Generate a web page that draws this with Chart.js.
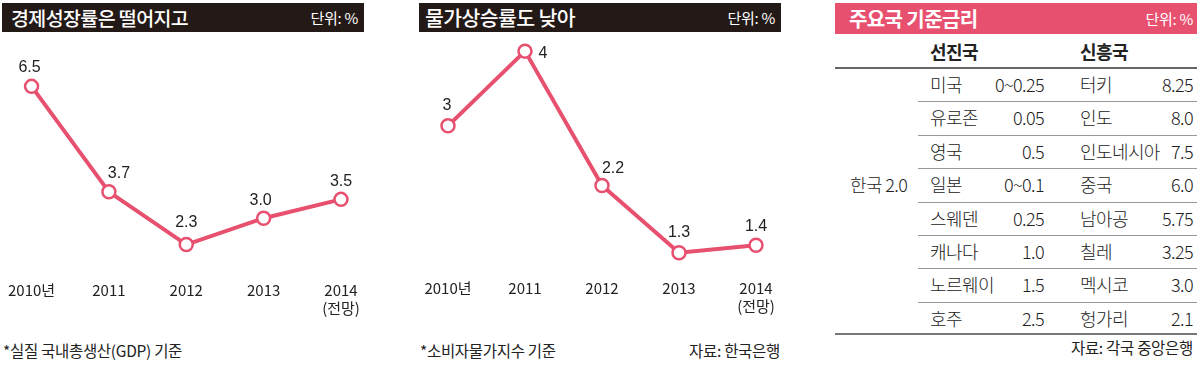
<!DOCTYPE html>
<html>
<head>
<meta charset="utf-8">
<script src="https://cdn.jsdelivr.net/npm/chart.js@4.4.1/dist/chart.umd.min.js"></script>
<style>
  body { margin: 0; width: 1200px; height: 365px; background: #fff; position: relative; overflow: hidden;
         font-family: 'Noto Sans CJK KR', sans-serif; color: #222; }
  .bar { position: absolute; color: #fff; }
  .bar .t { position: absolute; top: 0; font-size: 19.5px; font-weight: 500; letter-spacing: -0.6px; }
  .bar .u { position: absolute; top: 0; font-size: 15px; letter-spacing: -0.3px; }
  .box { position: absolute; }
  .note { position: absolute; font-size: 15.5px; letter-spacing: -0.3px; color: #222; white-space: nowrap; }
  .cell { position: absolute; font-size: 18px; font-weight: 300; letter-spacing: -0.6px; white-space: nowrap; color: #222; }
  .sep { position: absolute; height: 0; border-top: 1px solid #999; }
</style>
</head>
<body>
<div class="bar" style="left:2px;top:3px;width:362px;height:29px;line-height:29px;background:#231916;">
  <span class="t" style="left:9px;">경제성장률은 떨어지고</span>
  <span class="u" style="right:6px;">단위: %</span>
</div>
<div class="bar" style="left:419px;top:3px;width:362px;height:29px;line-height:29px;background:#231916;">
  <span class="t" style="left:6px;font-size:20.5px;">물가상승률도 낮아</span>
  <span class="u" style="right:6px;">단위: %</span>
</div>
<div class="bar" style="left:835px;top:3px;width:362px;height:31px;line-height:31px;background:#e7506f;">
  <span class="t" style="left:14px;font-size:20px;font-weight:700;">주요국 기준금리</span>
  <span class="u" style="right:4px;">단위: %</span>
</div>

<div class="box" style="left:0;top:40px;width:370px;height:285px;"><canvas id="gdpChart"></canvas></div>
<div class="box" style="left:410px;top:30px;width:380px;height:293px;"><canvas id="cpiChart"></canvas></div>

<div class="note" style="left:3px;top:339px;">*실질 국내총생산(GDP) 기준</div>
<div class="note" style="left:420px;top:339px;">*소비자물가지수 기준</div>
<div class="note" style="right:420px;top:339px;">자료: 한국은행</div>
<div class="note" style="right:7px;top:336px;">자료: 각국 중앙은행</div>

<div id="rateTable"></div>

<script>
const years = ['2010년', '2011', '2012', '2013', ['2014', '(전망)']];
const gdpGrowth = [6.5, 3.7, 2.3, 3.0, 3.5];
const cpiInflation = [3, 4, 2.2, 1.3, 1.4];

const advancedCountries = ['미국', '유로존', '영국', '일본', '스웨덴', '캐나다', '노르웨이', '호주'];
const advancedRates = ['0~0.25', '0.05', '0.5', '0~0.1', '0.25', '1.0', '1.5', '2.5'];
const emergingCountries = ['터키', '인도', '인도네시아', '중국', '남아공', '칠레', '멕시코', '헝가리'];
const emergingRates = ['8.25', '8.0', '7.5', '6.0', '5.75', '3.25', '3.0', '2.1'];
const koreaRate = '한국 2.0';

const PINK = '#e7506f';
const tickFont = { family: "'Liberation Sans Narrow', 'Noto Sans CJK KR', sans-serif", size: 15, lineHeight: 1.2 };

const valueLabels = {
  id: 'valueLabels',
  afterDatasetsDraw(chart, args, opts) {
    const ctx = chart.ctx;
    const meta = chart.getDatasetMeta(0);
    ctx.save();
    ctx.font = "16px 'Liberation Sans', Arial, sans-serif";
    ctx.fillStyle = '#222';
    ctx.textAlign = 'center';
    ctx.textBaseline = 'middle';
    meta.data.forEach((pt, i) => {
      const off = opts.offsets[i];
      ctx.fillText(opts.texts[i], pt.x + off[0], pt.y + off[1]);
    });
    ctx.restore();
  }
};

function lineChart(id, values, texts, offsets, yMin, yMax, padding) {
  new Chart(document.getElementById(id), {
    type: 'line',
    data: {
      labels: years,
      datasets: [{
        data: values,
        borderColor: PINK,
        borderWidth: 4,
        pointRadius: 6.5,
        pointBorderWidth: 2.5,
        pointBackgroundColor: '#fff',
        pointBorderColor: PINK,
        tension: 0,
        clip: false
      }]
    },
    options: {
      responsive: true,
      maintainAspectRatio: false,
      animation: false,
      layout: { padding: padding },
      plugins: {
        legend: { display: false },
        tooltip: { enabled: false },
        valueLabels: { texts: texts, offsets: offsets }
      },
      scales: {
        x: {
          offset: false,
          grid: { display: false, drawTicks: false },
          border: { display: false },
          ticks: { color: '#222', font: tickFont, padding: 8, maxRotation: 0, autoSkip: false }
        },
        y: { display: false, min: yMin, max: yMax }
      }
    },
    plugins: [valueLabels]
  });
}

lineChart('gdpChart', gdpGrowth, gdpGrowth.map(v => v.toFixed(1)),
  [[-2, -19], [10, -18], [0, -22], [-3, -18], [0, -18]],
  1.545, 7.2, { left: 30, right: 29, top: 20, bottom: 0 });

lineChart('cpiChart', cpiInflation, cpiInflation.map(String),
  [[-1, -20], [18, 2], [11, -17], [0, -20], [0, -19]],
  1.056, 4.149, { left: 38, right: 34, top: 10, bottom: 0 });

// rate table
const tbl = document.getElementById('rateTable');
function add(cls, style, text) {
  const d = document.createElement('div');
  d.className = cls;
  d.style.cssText = style;
  if (text !== undefined) d.textContent = text;
  tbl.appendChild(d);
}
add('cell', 'left:930px;top:36px;line-height:31px;font-weight:700;', '선진국');
add('cell', 'left:1080px;top:36px;line-height:31px;font-weight:700;', '신흥국');
add('sep', 'left:835px;top:67px;width:362px;border-top:2px solid #666;');
const rowH = 33.375;
advancedCountries.forEach((c, i) => {
  const top = 68 + i * rowH;
  const s = 'top:' + top + 'px;line-height:' + rowH + 'px;';
  add('cell', s + 'left:930px;', c);
  add('cell', s + 'right:156px;', advancedRates[i]);
  add('cell', s + 'left:1080px;', emergingCountries[i]);
  add('cell', s + 'right:7px;', emergingRates[i]);
  if (i < advancedCountries.length - 1) add('sep', 'left:918px;width:279px;top:' + (top + rowH) + 'px;');
});
add('cell', 'left:850px;line-height:' + rowH + 'px;top:' + (68 + 3 * rowH) + 'px;', koreaRate);
add('sep', 'left:835px;top:333px;width:362px;border-top:2px solid #777;');
</script>
</body>
</html>
